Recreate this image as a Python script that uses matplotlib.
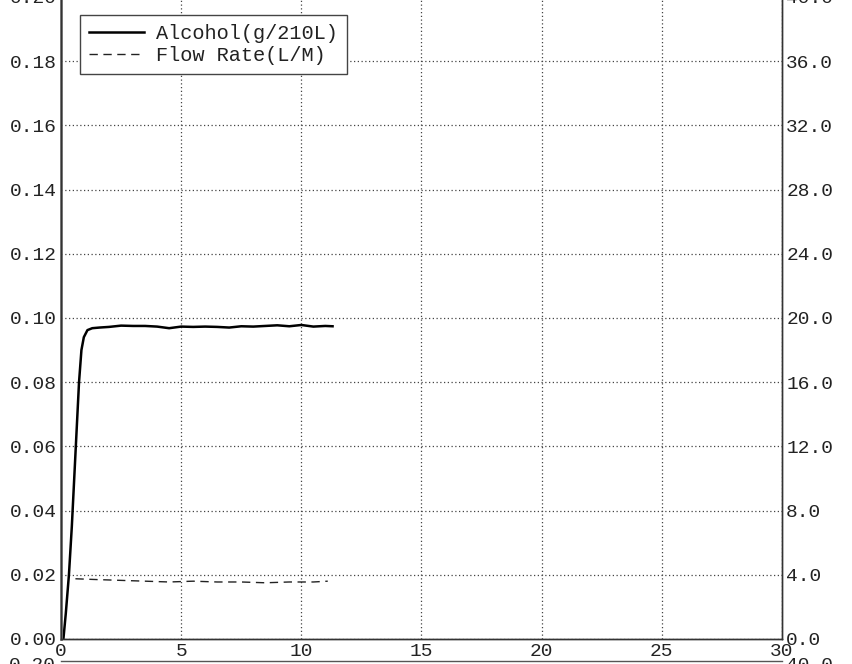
import numpy as np
import matplotlib
matplotlib.use("Agg")
import matplotlib.pyplot as plt
from matplotlib.lines import Line2D

plt.rcParams["font.family"] = ["Liberation Mono", "DejaVu Sans Mono"]

# Alcohol (g/210L), left axis
alc_t = [0.0, 0.1, 0.2, 0.33, 0.45, 0.55, 0.65, 0.75, 0.85, 0.95, 1.1, 1.3,
         1.6, 2.0, 2.5, 3.0, 3.5, 4.0, 4.5, 5.0, 5.5, 6.0, 6.5, 7.0, 7.5,
         8.0, 8.5, 9.0, 9.5, 10.0, 10.5, 11.0, 11.3]
alc = [0.0, 0.0, 0.008, 0.02, 0.035, 0.05, 0.065, 0.08, 0.09, 0.094, 0.0962,
       0.0968, 0.0970, 0.0972, 0.0976, 0.0975, 0.0975, 0.0973, 0.0968, 0.0973,
       0.0972, 0.0973, 0.0972, 0.0970, 0.0974, 0.0973, 0.0975, 0.0977, 0.0974,
       0.0978, 0.0973, 0.0975, 0.0974]

# Flow rate (L/M), right axis
flow_t = [0.6, 1.5, 2.5, 3.5, 4.5, 5.5, 6.5, 7.5, 8.5, 9.5, 10.5, 11.1]
flow = [3.75, 3.7, 3.65, 3.6, 3.55, 3.6, 3.55, 3.55, 3.5, 3.55, 3.55, 3.6]

x_ticks = [0, 5, 10, 15, 20, 25, 30]
left_ticks = np.arange(0, 0.201, 0.02)
right_ticks = np.arange(0, 40.1, 4.0)

ink = "#222222"
fs = 14

fig = plt.figure(figsize=(8.52, 6.64), dpi=100)
ax = fig.add_axes([0.0716, 0.0377, 0.8462, 0.967])
ax2 = ax.twinx()

l1, = ax.plot(alc_t, alc, color="black", lw=1.8, solid_joinstyle="round")
l2, = ax2.plot(flow_t, flow, color="#222222", lw=1.0, linestyle=(0, (6, 4)))

ax.set_xlim(0, 30)
ax.set_ylim(0, 0.20)
ax2.set_ylim(0, 40)

ax.set_xticks(x_ticks)
ax.set_yticks(left_ticks)
ax.set_yticklabels(["%.2f" % v for v in left_ticks])
ax2.set_yticks(right_ticks)
ax2.set_yticklabels(["%.1f" % v for v in right_ticks])

ax.grid(True, color="#444444", lw=0.9, linestyle=(0, (1, 2)))

for a in (ax, ax2):
    a.tick_params(length=0, labelsize=fs, labelcolor=ink)
    for s in a.spines.values():
        s.set_color("#333333")
        s.set_linewidth(1.0)
    a.spines["top"].set_visible(False)
ax.tick_params(axis="y", pad=3)
ax.tick_params(axis="x", pad=3)
ax2.tick_params(axis="y", pad=3)
ax.spines["left"].set_color("#777777")
ax.spines["left"].set_linewidth(2)

leg = ax.legend([l1, l2], ["Alcohol(g/210L)", "Flow Rate(L/M)"],
                loc="upper left", bbox_to_anchor=(0.026, 0.972),
                borderaxespad=0, fontsize=14.6, handlelength=2.7,
                handletextpad=0.6, fancybox=False, framealpha=1,
                labelspacing=0.15, borderpad=0.45)
leg.get_frame().set_edgecolor("#444444")
leg.get_frame().set_linewidth(1.0)
for t in leg.get_texts():
    t.set_color(ink)
ax2.set_zorder(ax.get_zorder() + 1)
ax2.patch.set_visible(False)
# legend on the top axes so the grid does not cross it
leg.remove()
ax2.add_artist(leg)

# edge of the next chart on the scanned page
fig.add_artist(Line2D([0.0716, 0.918], [0.004, 0.004], color="#555555", lw=1.0))
fig.text(0.066, 0.0105, "0.20", ha="right", va="top", fontsize=fs, color=ink)
fig.text(0.922, 0.0105, "40.0", ha="left", va="top", fontsize=fs, color=ink)

fig.savefig("out.png", dpi=100)
